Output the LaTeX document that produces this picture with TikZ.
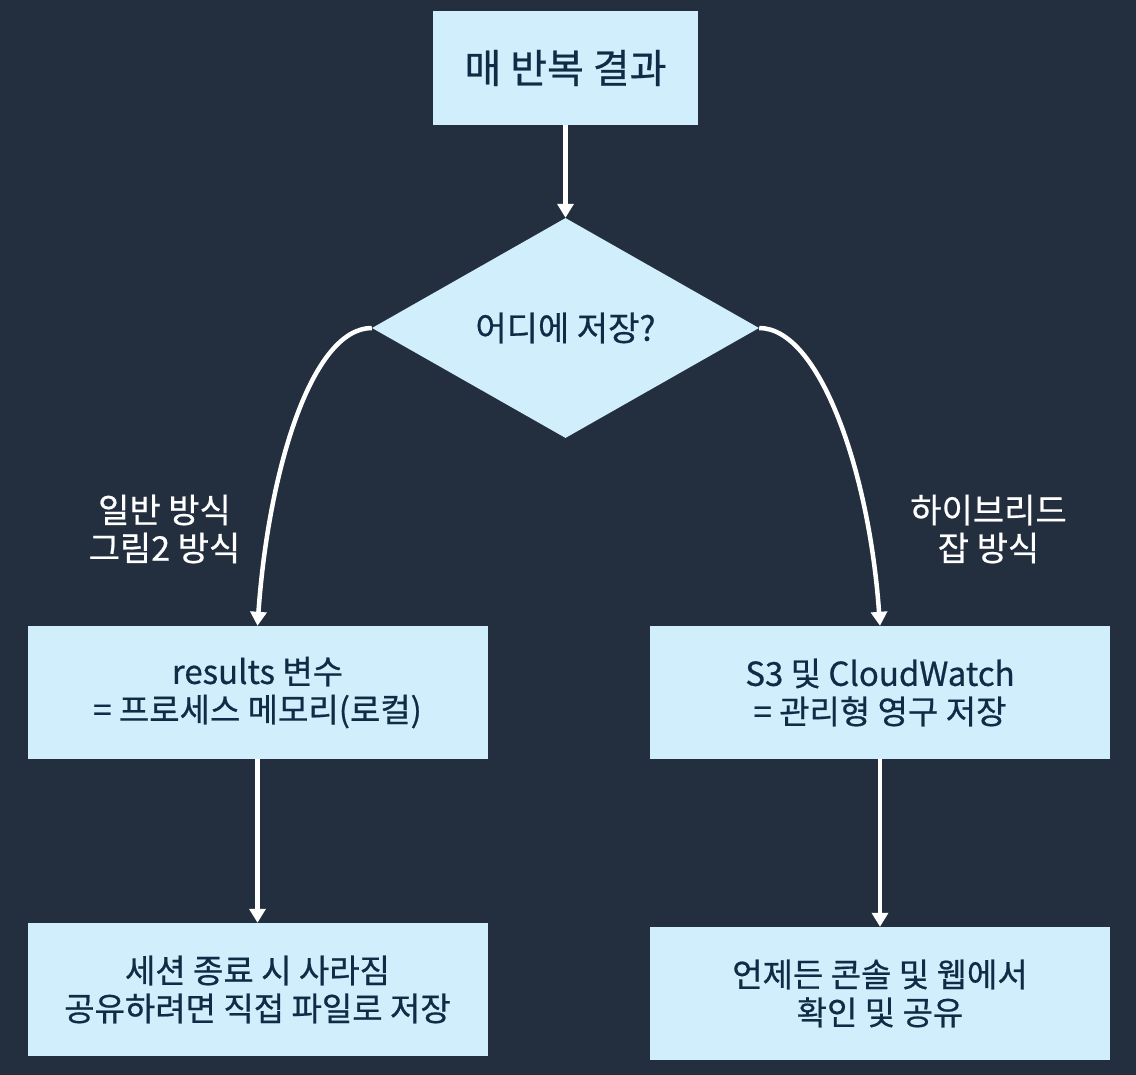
\documentclass[tikz,border=0pt]{standalone}
\usepackage{fontspec}
\setmainfont{Noto Sans CJK KR}[FakeBold=0.6]
\usepackage{tikz}
\usetikzlibrary{arrows.meta,shapes.geometric}
\definecolor{darkbg}{HTML}{232F3E}
\definecolor{lightblue}{HTML}{D1EEFC}
\definecolor{navytext}{HTML}{0F2B46}

\begin{document}
\begin{tikzpicture}[
    x=1pt, y=1pt,
    node distance=260pt,
    box/.style={rectangle, fill=lightblue, text=navytext, minimum width=460pt, minimum height=133pt, align=center, font=\fontsize{33}{38}\selectfont},
    topbox/.style={box, minimum width=265pt, minimum height=114pt, font=\fontsize{40}{44}\selectfont},
    decision/.style={diamond, aspect=1.76, fill=lightblue, text=navytext, minimum width=387pt, minimum height=220pt, inner sep=0pt, font=\fontsize{34}{38}\selectfont},
    lbl/.style={text=white, align=center, font=\fontsize{34}{38}\selectfont},
    arrow/.style={->, >={Triangle[length=14pt,width=16pt]}, line width=4.5pt, white}
]
    \fill[darkbg] (0,0) rectangle (1136,-1075);
    \useasboundingbox (0,0) rectangle (1136,-1075);

    \node[topbox] (result) at (565.5,-68) {매 반복 결과};
    \node[decision, below of=result] (where) {어디에 저장?};
    \node[box, below of=where, xshift=-308pt, yshift=-104.5pt] (local) {results 변수\\= 프로세스 메모리(로컬)};
    \node[box, below of=where, xshift=314.5pt, yshift=-104.5pt] (cloud) {S3 및 CloudWatch\\= 관리형 영구 저장};
    \node[box, below of=local, yshift=-37pt] (lost) {세션 종료 시 사라짐\\공유하려면 직접 파일로 저장};
    \node[box, below of=cloud, yshift=-41pt] (share) {언제든 콘솔 및 웹에서\\확인 및 공유};
    \node[lbl, below of=where, xshift=-401pt, yshift=59pt] (normal) {일반 방식\\그림2 방식};
    \node[lbl, below of=where, xshift=423pt, yshift=59pt] (hybrid) {하이브리드\\잡 방식};

    \draw[arrow] (result) -- (where);
    \draw[arrow] (where.west) to[out=180, in=86, out distance=60pt, in distance=156pt] (local.north);
    \draw[arrow] (where.east) to[out=0, in=94, out distance=60pt, in distance=156pt] (cloud.north);
    \draw[arrow] (local) -- (lost);
    \draw[arrow] (cloud) -- (share);
\end{tikzpicture}
\end{document}
